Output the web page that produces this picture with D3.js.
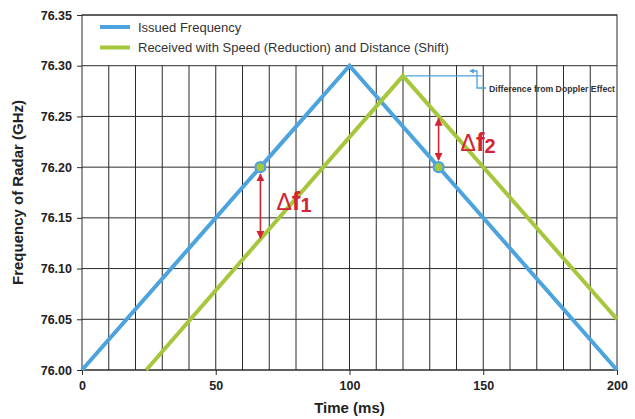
<!DOCTYPE html>
<html>
<head>
<meta charset="utf-8">
<script src="https://cdn.jsdelivr.net/npm/d3@7/dist/d3.min.js"></script>
<style>
  body { margin: 0; background: #fff; }
  svg { display: block; font-family: "Liberation Sans", Arial, sans-serif; }
</style>
</head>
<body>
<svg id="chart" width="635" height="419"></svg>
<script>
// Time axis (ms) and frequency axis (GHz)
const xTicks = [0, 50, 100, 150, 200];
const yTicks = [76.00, 76.05, 76.10, 76.15, 76.20, 76.25, 76.30, 76.35];

// Triangular FMCW chirp: issued vs. received (delayed and Doppler-reduced)
const issuedTime = [0, 100, 200];
const issuedFreq = [76.00, 76.30, 76.00];
const receivedTime = [24, 120, 200];
const receivedFreq = [76.00, 76.29, 76.05];

// Beat-frequency markers: [time, issued freq, received freq]
const markerTime = [66.7, 133.3];
const markerIssued = [76.20, 76.20];
const markerReceived = [76.128, 76.25];
const markerLabels = ["1", "2"];

const seriesNames = ["Issued Frequency", "Received with Speed (Reduction) and Distance (Shift)"];
const seriesColors = ["#4ca3dd", "#a5c73b"];
const red = "#d42433";

const svg = d3.select("#chart");
const margin = { left: 82, right: 18, top: 15, bottom: 49 };
const W = 635, H = 419;

const x = d3.scaleLinear().domain([0, 200]).range([margin.left, W - margin.right]);
const y = d3.scaleLinear().domain([76.00, 76.35]).range([H - margin.bottom, margin.top]);

// vertical grid every 10 ms, only below the legend band
const g = svg.append("g");
g.selectAll(".vgrid").data(d3.range(10, 200, 10)).join("line")
  .attr("x1", d => x(d)).attr("x2", d => x(d))
  .attr("y1", y(76.30)).attr("y2", y(76.00))
  .attr("stroke", "#2b2b2b").attr("stroke-width", 1);

// horizontal grid
g.selectAll(".hgrid").data(yTicks).join("line")
  .attr("x1", x(0)).attr("x2", x(200))
  .attr("y1", d => y(d)).attr("y2", d => y(d))
  .attr("stroke", "#2b2b2b").attr("stroke-width", 1);

// frame
g.append("rect")
  .attr("x", x(0)).attr("y", y(76.35))
  .attr("width", x(200) - x(0)).attr("height", y(76.00) - y(76.35))
  .attr("fill", "none").attr("stroke", "#2b2b2b").attr("stroke-width", 1);

// axes
const xAxis = d3.axisBottom(x).tickValues(xTicks).tickFormat(d3.format("d")).tickSize(5).tickPadding(6);
const yAxis = d3.axisLeft(y).tickValues(yTicks).tickFormat(d3.format(".2f")).tickSize(5).tickPadding(5);

const gx = svg.append("g").attr("transform", `translate(0,${y(76.00)})`).call(xAxis);
const gy = svg.append("g").attr("transform", `translate(${x(0)},0)`).call(yAxis);
[gx, gy].forEach(a => {
  a.attr("font-family", "'Liberation Sans', Arial, sans-serif");
  a.select(".domain").remove();
  a.selectAll(".tick line").attr("stroke", "#2b2b2b");
  a.selectAll(".tick text")
    .attr("fill", "#222").attr("font-size", 12.5).attr("font-weight", "bold");
});

// axis titles
svg.append("text")
  .attr("x", (x(0) + x(200)) / 2).attr("y", 413)
  .attr("text-anchor", "middle").attr("font-size", 15).attr("font-weight", "bold").attr("fill", "#222")
  .text("Time (ms)");
svg.append("text")
  .attr("transform", `translate(23,${(y(76.00) + y(76.35)) / 2}) rotate(-90)`)
  .attr("text-anchor", "middle").attr("font-size", 15).attr("font-weight", "bold").attr("fill", "#222")
  .text("Frequency of Radar (GHz)");

// series lines
const line = d3.line().x(d => x(d[0])).y(d => y(d[1]));
const issued = issuedTime.map((t, i) => [t, issuedFreq[i]]);
const received = receivedTime.map((t, i) => [t, receivedFreq[i]]);

svg.append("path").datum(issued).attr("d", line)
  .attr("fill", "none").attr("stroke", seriesColors[0]).attr("stroke-width", 4);
svg.append("path").datum(received).attr("d", line)
  .attr("fill", "none").attr("stroke", seriesColors[1]).attr("stroke-width", 4);

// legend
const legend = svg.append("g");
seriesNames.forEach((name, i) => {
  const ly = 27 + i * 20.5;
  legend.append("line")
    .attr("x1", 100).attr("x2", 130).attr("y1", ly).attr("y2", ly)
    .attr("stroke", seriesColors[i]).attr("stroke-width", 4);
  legend.append("text")
    .attr("x", 138).attr("y", ly + 4.5)
    .attr("font-size", 13).attr("fill", "#333")
    .text(name);
});

// arrowheads
const defs = svg.append("defs");
defs.append("marker").attr("id", "arr").attr("viewBox", "0 0 10 10")
  .attr("refX", 9).attr("refY", 5).attr("markerWidth", 5).attr("markerHeight", 5)
  .attr("orient", "auto-start-reverse").attr("markerUnits", "strokeWidth")
  .append("path").attr("d", "M0,0 L10,5 L0,10 Z").attr("fill", red);

// beat-frequency arrows and labels
markerTime.forEach((t, i) => {
  const y1 = y(markerIssued[i]), y2 = y(markerReceived[i]);
  const dir = y2 > y1 ? 1 : -1;
  svg.append("line")
    .attr("x1", x(t)).attr("x2", x(t))
    .attr("y1", y1 + dir * 7).attr("y2", y2 - dir * 2)
    .attr("stroke", red).attr("stroke-width", 1.6)
    .attr("marker-start", "url(#arr)").attr("marker-end", "url(#arr)");
});

markerTime.forEach((t, i) => {
  svg.append("circle")
    .attr("cx", x(t)).attr("cy", y(markerIssued[i])).attr("r", 5)
    .attr("fill", seriesColors[1]).attr("stroke", seriesColors[0]).attr("stroke-width", 2.2);
});

const labelPos = [[x(markerTime[0]) + 16, 210], [x(markerTime[1]) + 22, 151]];
markerLabels.forEach((s, i) => {
  const t = svg.append("text")
    .attr("x", labelPos[i][0]).attr("y", labelPos[i][1])
    .attr("fill", red).attr("font-size", 26);
  t.append("tspan").attr("font-weight", "normal").attr("font-size", 23).text("\u0394");
  t.append("tspan").attr("font-weight", "bold").text("f");
  t.append("tspan").attr("font-weight", "bold").attr("font-size", 20).attr("dy", 2).text(s);
});

// Doppler annotation: leader from received peak to the note
const peakX = x(receivedTime[1]), peakY = y(receivedFreq[1]);
const ann = svg.append("g").attr("stroke", seriesColors[0]).attr("stroke-width", 1.3).attr("fill", "none");
ann.append("line").attr("x1", peakX + 3).attr("x2", 482).attr("y1", peakY).attr("y2", peakY);
ann.append("path").attr("d", "M473,71 L477,71 L477,88 L486,88");
svg.append("path").attr("d", "M469,71 L474,68.5 L474,73.5 Z").attr("fill", seriesColors[0]);
svg.append("text")
  .attr("x", 489).attr("y", 92)
  .attr("font-size", 8.7).attr("font-weight", "bold").attr("fill", "#333")
  .text("Difference from Doppler Effect");
</script>
</body>
</html>
